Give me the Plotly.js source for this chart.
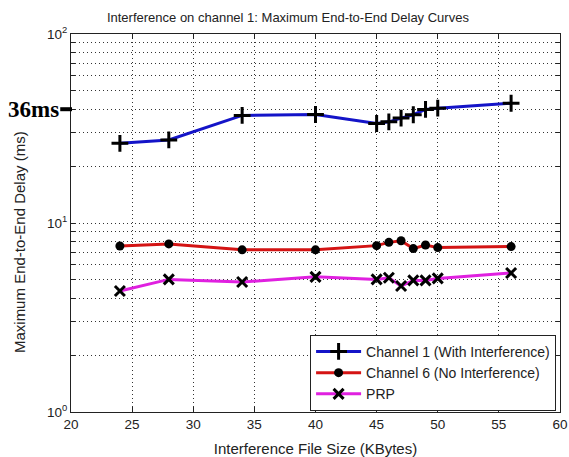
<!DOCTYPE html>
<html>
<head>
<meta charset="utf-8">
<script src="https://cdn.plot.ly/plotly-3.0.1.min.js"></script>
<style>html,body{margin:0;padding:0;background:#fff;}#chart{width:569px;height:457px;}</style>
</head>
<body>
<div id="chart"></div>
<script>
// ---- data ----
const fileSizes = [24, 28, 34, 40, 45, 46, 47, 48, 49, 50, 56];
const channel1Delay = [26.4, 27.5, 37.1, 37.5, 33.6, 34.3, 35.9, 37.4, 39.9, 40.5, 43.0];
const channel6Delay = [7.56, 7.75, 7.21, 7.21, 7.59, 7.9, 8.06, 7.32, 7.65, 7.41, 7.5];
const prpDelay = [4.37, 5.03, 4.87, 5.19, 5.03, 5.13, 4.64, 4.97, 4.97, 5.09, 5.44];
const seriesNames = ['Channel 1 (With Interference)', 'Channel 6 (No Interference)', 'PRP'];
const xTickVals = [20, 25, 30, 35, 40, 45, 50, 55, 60];
const yTickVals = [1,2,3,4,5,6,7,8,9,10,20,30,40,50,60,70,80,90,100];
const yTickText = ['10<sup>0</sup>','','','','','','','','','10<sup>1</sup>','','','','','','','','','10<sup>2</sup>'];
const titleText = 'Interference on channel 1: Maximum End-to-End Delay Curves';
const xTitleText = 'Interference File Size (KBytes)';
const yTitleText = 'Maximum End-to-End Delay (ms)';
const markLabel = '36ms';
const markValue = 40;

const font = 'Liberation Sans, Arial, sans-serif';
const txt = '#222';
const dotted = '1px,3px';

const traces = [
  {
    x: fileSizes, y: channel1Delay, name: seriesNames[0], type: 'scatter', mode: 'lines+markers',
    line: {color: '#1414c8', width: 3},
    marker: {symbol: 'cross-thin-open', size: 12, color: '#000', line: {color: '#000', width: 3}}
  },
  {
    x: fileSizes, y: channel6Delay, name: seriesNames[1], type: 'scatter', mode: 'lines+markers',
    line: {color: '#d41414', width: 3},
    marker: {symbol: 'circle', size: 9, color: '#000'}
  },
  {
    x: fileSizes, y: prpDelay, name: seriesNames[2], type: 'scatter', mode: 'lines+markers',
    line: {color: '#e020e0', width: 3},
    marker: {symbol: 'x-thin-open', size: 10, color: '#000', line: {color: '#000', width: 3}}
  }
];

const layout = {
  width: 569, height: 457,
  margin: {l: 71, r: 9, t: 34, b: 45},
  paper_bgcolor: '#fff', plot_bgcolor: '#fff',
  font: {family: font, size: 12, color: txt},
  title: {text: titleText, font: {family: font, size: 13, color: txt},
          x: 0.506, xanchor: 'center', y: 0.962, yanchor: 'middle'},
  showlegend: true,
  legend: {
    x: 0.992, y: 0.003, xanchor: 'right', yanchor: 'bottom',
    bgcolor: '#fff', bordercolor: '#222', borderwidth: 1,
    font: {family: font, size: 14, color: txt},
    itemwidth: 45, tracegroupgap: 0
  },
  xaxis: {
    range: [20, 60], tickvals: xTickVals, ticktext: xTickVals.map(String),
    showline: true, linecolor: '#222', linewidth: 1, mirror: 'ticks',
    ticks: 'inside', ticklen: 5, tickcolor: '#222',
    showgrid: true, gridcolor: '#333', griddash: dotted, gridwidth: 1,
    zeroline: false,
    tickfont: {family: font, size: 13.5, color: txt},
    title: {text: xTitleText, font: {family: font, size: 15, color: txt}, standoff: 14}
  },
  yaxis: {
    type: 'log', range: [0, 2], tickvals: yTickVals, ticktext: yTickText,
    showline: true, linecolor: '#222', linewidth: 1, mirror: 'ticks',
    ticks: 'inside', ticklen: 4, tickcolor: '#222',
    showgrid: true, gridcolor: '#333', griddash: dotted, gridwidth: 1,
    zeroline: false,
    tickfont: {family: font, size: 13.5, color: txt}
  },
  shapes: [
    {type: 'line', xref: 'paper', yref: 'y', x0: -0.022, x1: 0.002, y0: markValue, y1: markValue,
     line: {color: '#000', width: 4}}
  ],
  annotations: [
    {xref: 'paper', yref: 'y', x: 0, y: Math.log10(markValue), xanchor: 'right', yanchor: 'middle',
     xshift: -10, showarrow: false, text: '<b>' + markLabel + '</b>',
     font: {family: 'Liberation Serif, Times New Roman, serif', size: 23, color: '#000'}},
    {xref: 'paper', yref: 'paper', x: -0.104, y: 0.45, xanchor: 'center', yanchor: 'middle',
     textangle: -90, showarrow: false, text: yTitleText,
     font: {family: font, size: 15, color: txt}}
  ]
};

Plotly.newPlot('chart', traces, layout, {displayModeBar: false, staticPlot: true});
</script>
</body>
</html>
